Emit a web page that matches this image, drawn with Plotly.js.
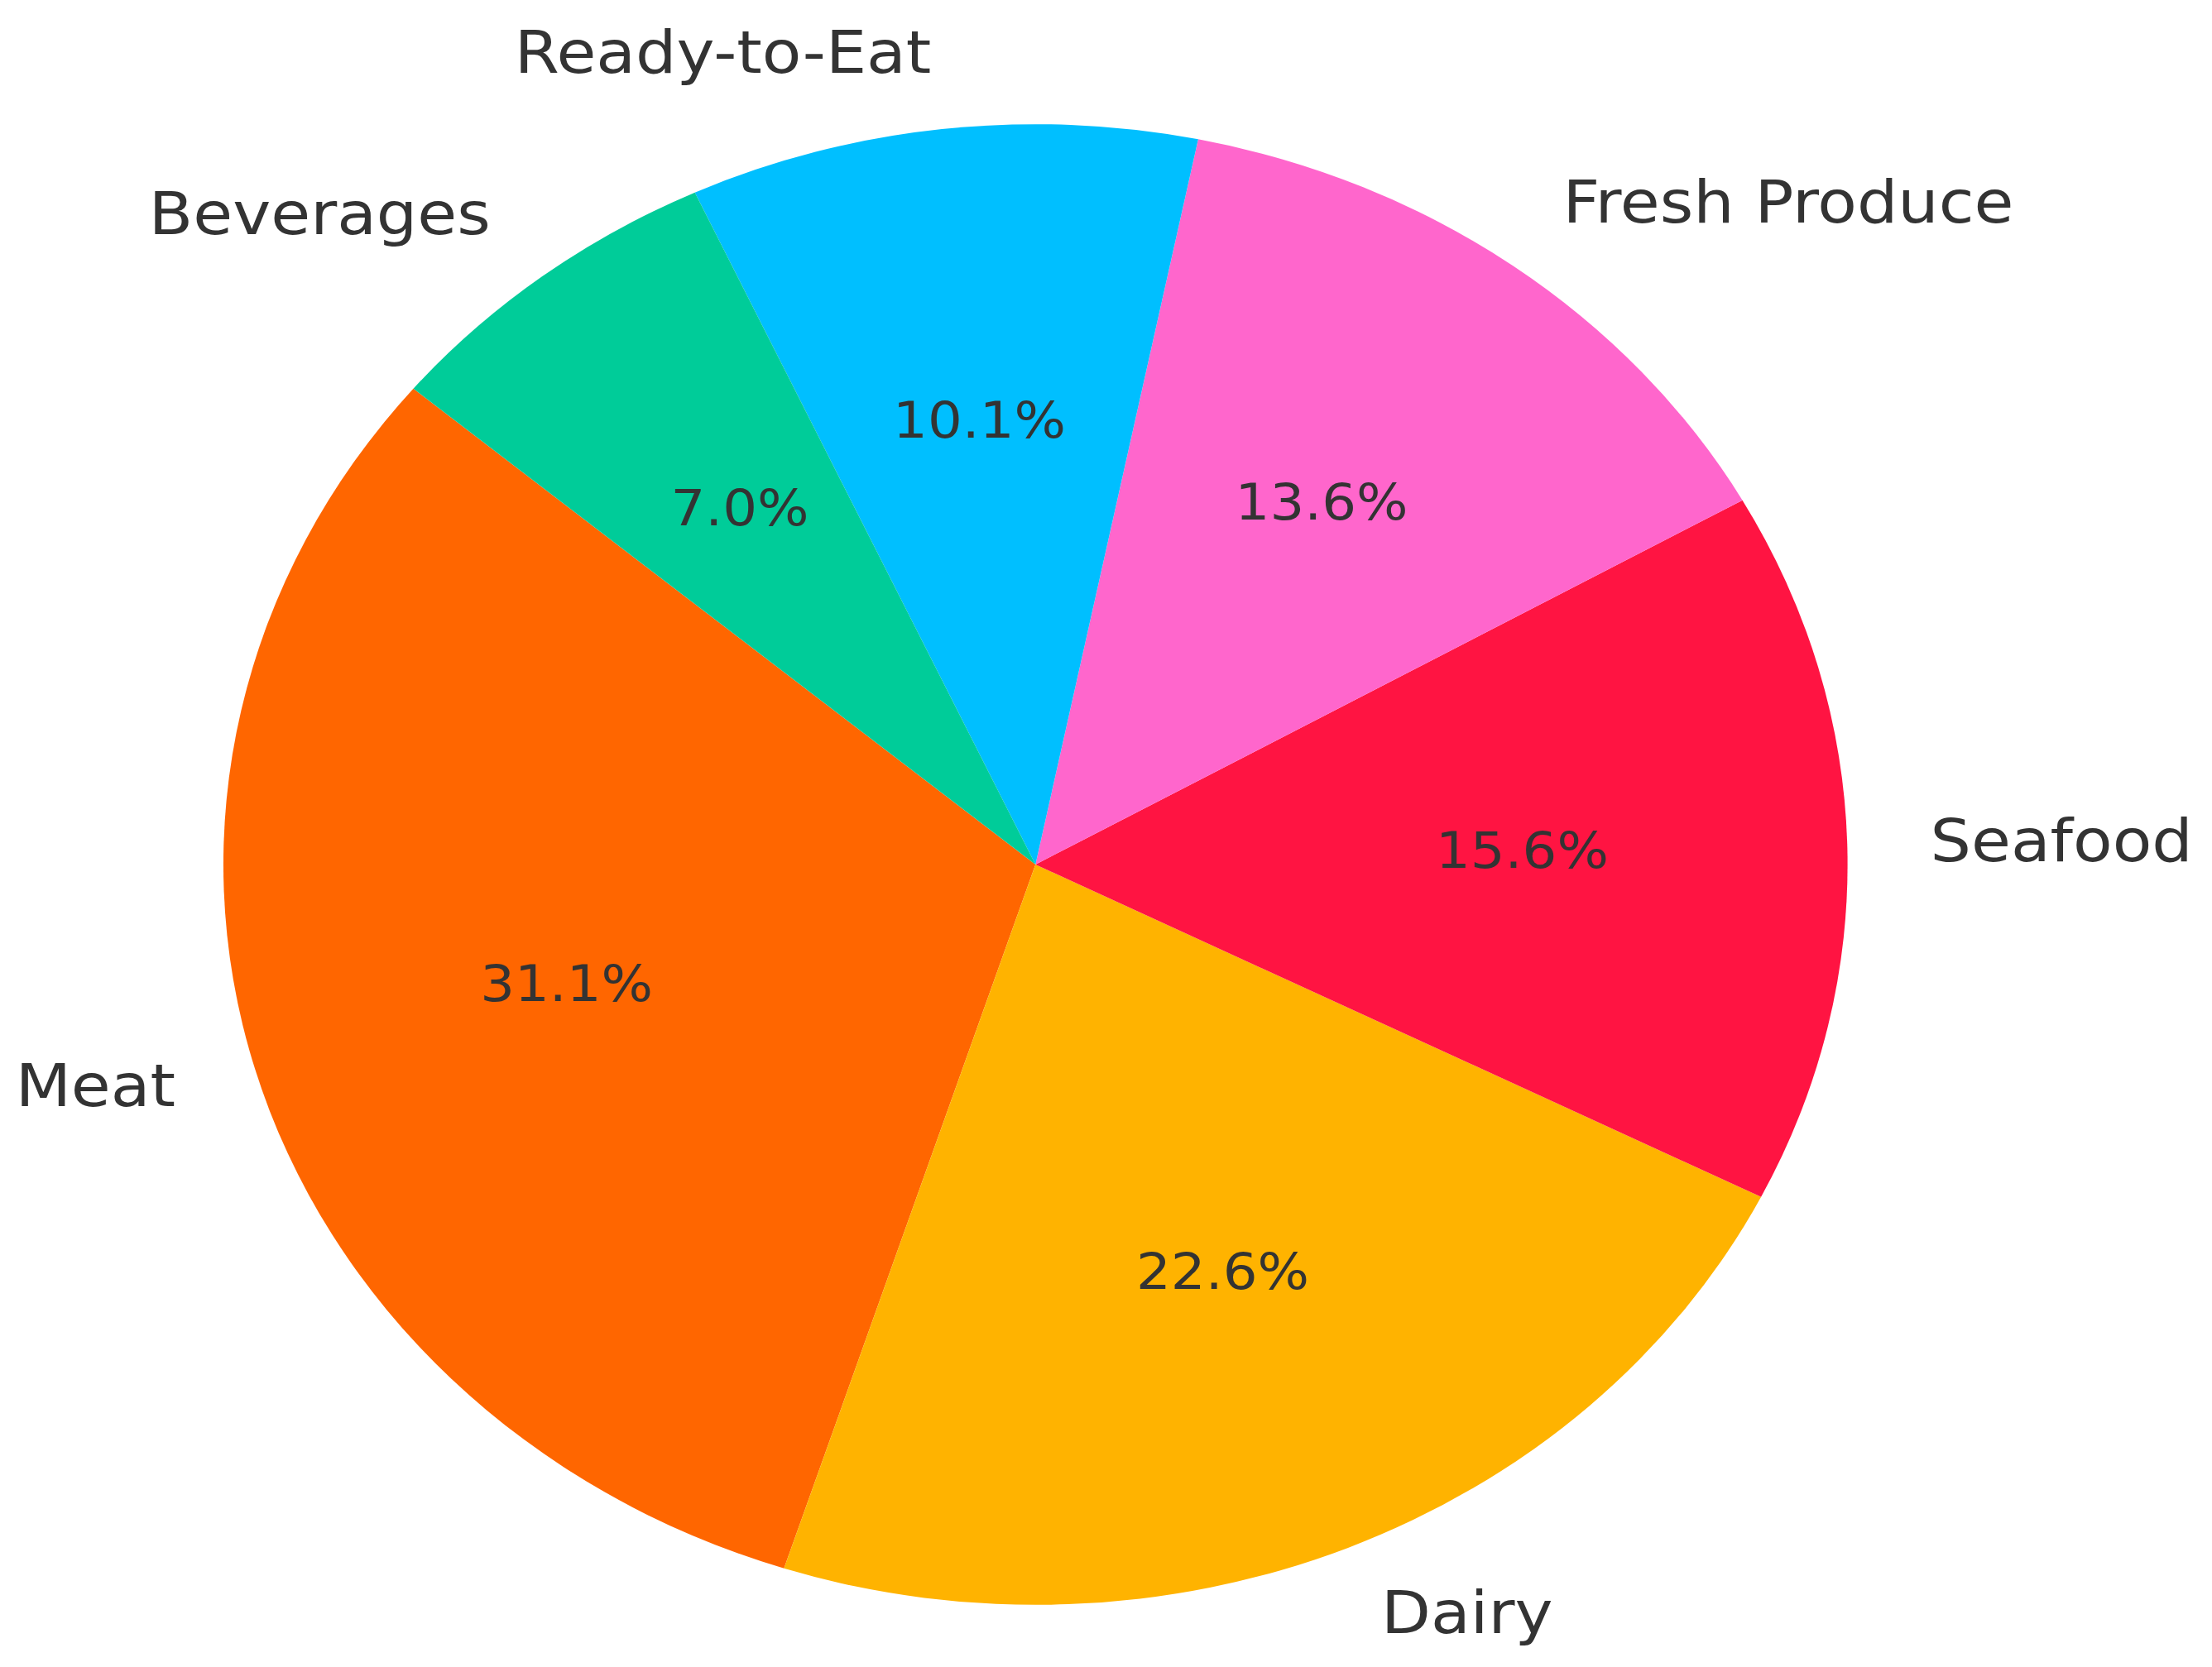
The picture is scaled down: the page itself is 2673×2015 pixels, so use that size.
<!DOCTYPE html>
<html>
<head>
<meta charset="utf-8">
<script src="https://cdn.plot.ly/plotly-3.0.1.min.js"></script>
<style>
  html, body { margin: 0; padding: 0; background: #ffffff; overflow: hidden; }
  #chart { transform-origin: 0 0; }
</style>
</head>
<body>
<div id="chart"></div>
<script>
// ---- data ----
const categories = ['Meat', 'Dairy', 'Seafood', 'Fresh Produce', 'Ready-to-Eat', 'Beverages'];
const shares = [31.1, 22.6, 15.6, 13.6, 10.1, 7.0];
const sliceColors = ['#FF6600', '#FFB300', '#FF1442', '#FF66CC', '#00BFFF', '#00CC99'];

// ---- geometry / style ----
const W = 2673, H = 2015;
const rxPx = 981.5, ryPx = 895;        // horizontal / vertical radius in the final picture
const sx = rxPx / ryPx;                // horizontal stretch of the whole figure
const Wd = W / sx;                     // width of the un-stretched drawing
const cxPx = 1251.5 / sx, cyPx = 1045; // pie centre in the un-stretched drawing
const R = ryPx;
const startAngle = 140;                // degrees, counterclockwise (matplotlib style)
const labelDist = 1.1, pctDist = 0.6;
const textShift = 4;
const labelFont = { family: 'DejaVu Sans', size: 71, color: '#333333' };
const pctFont = { family: 'DejaVu Sans', size: 60, color: '#333333' };

const total = shares.reduce((a, b) => a + b, 0);
// Plotly (counterclockwise): first slice's counterclockwise end sits at `rotation` (clockwise from 12 o'clock)
const firstEnd = startAngle + 360 * shares[0] / total;

const pieTrace = {
  type: 'pie',
  labels: categories,
  values: shares,
  sort: false,
  direction: 'counterclockwise',
  rotation: 90 - firstEnd,
  marker: { colors: sliceColors, line: { width: 0 } },
  textinfo: 'none',
  hoverinfo: 'skip',
  showlegend: false,
  domain: {
    x: [(cxPx - R) / Wd, (cxPx + R) / Wd],
    y: [(H - cyPx - R) / H, (H - cyPx + R) / H]
  }
};

// invisible cartesian frame: unit circle maps onto the pie
const helper = { type: 'scatter', x: [], y: [], hoverinfo: 'skip', showlegend: false };

const annotations = [];
let acc = 0;
shares.forEach((v, i) => {
  const mid = (startAngle + 360 * (acc + v / 2) / total) * Math.PI / 180;
  acc += v;
  const c = Math.cos(mid), s = Math.sin(mid);
  annotations.push({
    xref: 'x', yref: 'y', x: labelDist * c, y: labelDist * s,
    text: categories[i], showarrow: false,
    xanchor: c > 0 ? 'left' : 'right', yanchor: 'middle', yshift: textShift,
    font: labelFont
  });
  annotations.push({
    xref: 'x', yref: 'y', x: pctDist * c, y: pctDist * s,
    text: v.toFixed(1) + '%', showarrow: false,
    xanchor: 'center', yanchor: 'middle', yshift: textShift,
    font: pctFont
  });
});

const layout = {
  width: Wd, height: H,
  margin: { l: 0, r: 0, t: 0, b: 0, pad: 0 },
  paper_bgcolor: '#ffffff', plot_bgcolor: 'rgba(0,0,0,0)',
  showlegend: false,
  xaxis: { visible: false, range: [-cxPx / R, (Wd - cxPx) / R], autorange: false, fixedrange: true, domain: [0, 1] },
  yaxis: { visible: false, range: [-(H - cyPx) / R, cyPx / R], autorange: false, fixedrange: true, domain: [0, 1] },
  annotations: annotations
};

const el = document.getElementById('chart');
el.style.width = Wd + 'px';
el.style.height = H + 'px';
el.style.transform = 'scaleX(' + sx + ')';

Plotly.newPlot(el, [pieTrace, helper], layout, { staticPlot: true, displayModeBar: false });
</script>
</body>
</html>
